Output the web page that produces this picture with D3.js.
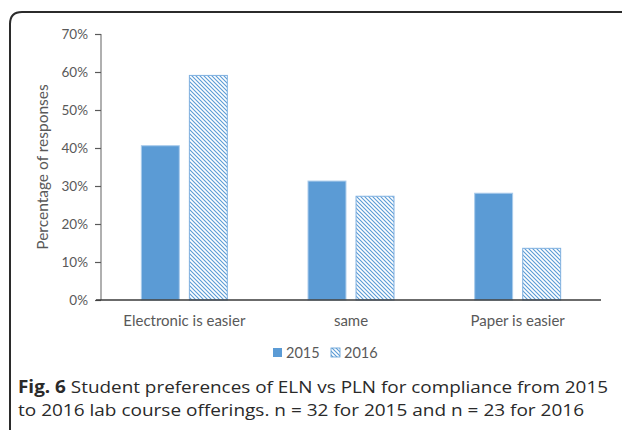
<!DOCTYPE html>
<html><head><meta charset="utf-8">
<script src="https://cdn.jsdelivr.net/npm/d3@7"></script>
<style>html,body{margin:0;padding:0;background:#fff;}svg{display:block;}</style>
</head><body>
<script>
const categories = ["Electronic is easier", "same", "Paper is easier"];
const seriesNames = ["2015", "2016"];
const values2015 = [0.406, 0.313, 0.281];
const values2016 = [0.591, 0.273, 0.136];
const yTicks = [0, 0.1, 0.2, 0.3, 0.4, 0.5, 0.6, 0.7];

const W = 622, H = 430;
const svg = d3.select("body").append("svg").attr("width", W).attr("height", H);
const defs = svg.append("defs");
const pat = defs.append("pattern").attr("id", "hatch").attr("patternUnits", "userSpaceOnUse")
  .attr("width", 4).attr("height", 4);
pat.append("rect").attr("width", 4).attr("height", 4).attr("fill", "#fff");
pat.append("path").attr("d", "M-1,-1 L5,5 M-1,3 L1,5 M3,-1 L5,1").attr("stroke", "#5b9bd5").attr("stroke-width", 1.1);

// frame
svg.append("path").attr("d", "M10,440 L10,24 Q10,12 22,12 L640,12")
  .attr("fill", "none").attr("stroke", "#2b2b2b").attr("stroke-width", 2);

const x0 = d3.scaleBand().domain(categories).range([101, 601]).paddingInner(0).paddingOuter(0);
const x1 = d3.scaleBand().domain(seriesNames).range([0, x0.bandwidth()]).paddingInner(0.21).paddingOuter(0.84);
const y = d3.scaleLinear().domain([0, 0.7]).range([300, 34]);

const font = "Lato, 'Open Sans', sans-serif";
// y axis
const yAxis = svg.append("g").attr("transform", "translate(101,0)")
  .call(d3.axisLeft(y).tickValues(yTicks).tickFormat(d3.format(".0%")).tickSize(6).tickPadding(7));
yAxis.select(".domain").attr("stroke", "#868686").attr("stroke-width", 1.3).attr("d", "M0,34V300");
yAxis.selectAll(".tick line").attr("stroke", "#595959").attr("stroke-width", 1.2);
yAxis.selectAll(".tick text").attr("fill", "#595959").attr("font-family", font).attr("font-size", 13.5);

const series = [values2015, values2016];
const g = svg.append("g");
categories.forEach((c, i) => {
  seriesNames.forEach((s, j) => {
    const v = series[j][i];
    g.append("rect")
      .attr("x", x0(c) + x1(s)).attr("width", x1.bandwidth())
      .attr("y", y(v)).attr("height", y(0) - y(v))
      .attr("fill", j === 0 ? "#5b9bd5" : "url(#hatch)")
      .attr("stroke", j === 0 ? "#a9cbeb" : "#7fb0e0").attr("stroke-width", 1);
  });
});

// x axis
const xAxis = svg.append("g").attr("transform", "translate(0,300)")
  .call(d3.axisBottom(x0).tickSize(0).tickPadding(15));
xAxis.select(".domain").attr("stroke", "#3a3a3a").attr("stroke-width", 1.3).attr("d", "M96,0H601");
xAxis.selectAll(".tick text").attr("fill", "#595959").attr("font-family", font).attr("font-size", 15);

// y title
svg.append("text").attr("transform", "translate(48,167) rotate(-90)").attr("text-anchor", "middle")
  .attr("fill", "#595959").attr("font-family", font).attr("font-size", 15.5).text("Percentage of responses");

// legend
const leg = svg.append("g");
const legX = [273, 331];
seriesNames.forEach((s, j) => {
  leg.append("rect").attr("x", legX[j]).attr("y", 348).attr("width", 9).attr("height", 9)
    .attr("fill", j === 0 ? "#5b9bd5" : "url(#hatch)").attr("stroke", j === 0 ? "none" : "#5b9bd5").attr("stroke-width", 0.8);
  leg.append("text").attr("x", legX[j] + 13).attr("y", 358).attr("fill", "#595959")
    .attr("font-family", font).attr("font-size", 14.5).text(s);
});

// caption
const cap = svg.append("g").attr("font-family", "'Open Sans', sans-serif").attr("font-size", 17).attr("fill", "#2a2a2a");
const t1 = cap.append("text").attr("x", 18).attr("y", 393).attr("textLength", 590).attr("lengthAdjust", "spacingAndGlyphs");
t1.append("tspan").attr("font-weight", "bold").text("Fig. 6");
t1.append("tspan").text(" Student preferences of ELN vs PLN for compliance from 2015");
cap.append("text").attr("x", 18).attr("y", 416).attr("textLength", 566).attr("lengthAdjust", "spacingAndGlyphs")
  .text("to 2016 lab course offerings. n = 32 for 2015 and n = 23 for 2016");
</script>
</body></html>
